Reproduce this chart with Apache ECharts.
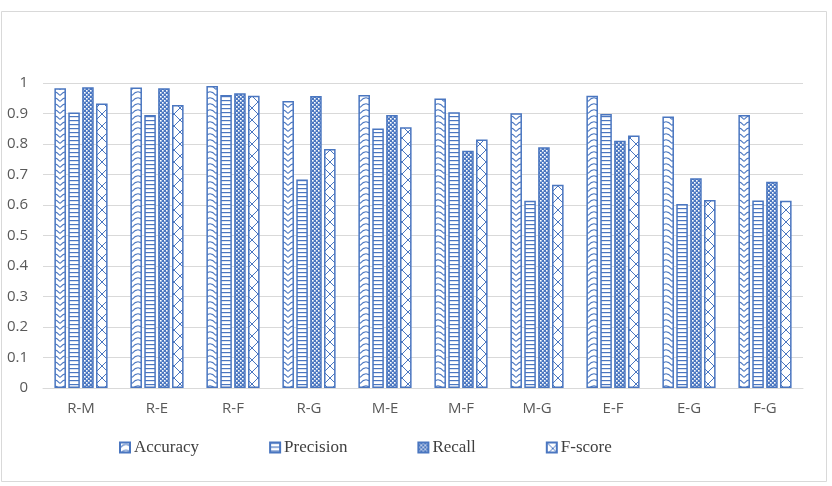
<!DOCTYPE html>
<html>
<head>
<meta charset="utf-8">
<script src="https://cdn.jsdelivr.net/npm/echarts@6/dist/echarts.min.js"></script>
<style>html,body{margin:0;padding:0;background:#fff;}#c{width:832px;height:486px;}</style>
</head>
<body>
<div id="c"></div>
<script>
const categories = ['R-M','R-E','R-F','R-G','M-E','M-F','M-G','E-F','E-G','F-G'];
const seriesNames = ['Accuracy','Precision','Recall','F-score'];
const accuracy  = [0.983,0.985,0.990,0.941,0.961,0.949,0.901,0.958,0.890,0.895];
const precision = [0.903,0.895,0.961,0.684,0.851,0.904,0.614,0.898,0.603,0.615];
const recall    = [0.986,0.983,0.966,0.957,0.895,0.778,0.789,0.811,0.688,0.676];
const fscore    = [0.933,0.928,0.958,0.784,0.855,0.815,0.666,0.828,0.616,0.614];
const yTickLabels = ['0','0.1','0.2','0.3','0.4','0.5','0.6','0.7','0.8','0.9','1'];

const BLUE = '#4a76c0';
function tile(w, h, draw) {
  const c = document.createElement('canvas');
  c.width = w; c.height = h;
  const g = c.getContext('2d');
  g.fillStyle = '#fff'; g.fillRect(0, 0, w, h);
  g.strokeStyle = BLUE; g.fillStyle = BLUE; g.lineWidth = 1;
  draw(g);
  return c;
}
const patAcc = tile(12, 6, g => {
  g.lineWidth = 1.1;
  g.beginPath();
  g.moveTo(0, 5.5); g.quadraticCurveTo(6, -2, 12, 5.5);
  g.stroke();
});
const patPrec = tile(4, 4, g => {
  g.fillRect(0, 0, 4, 1.2);
});
const patRec = tile(4, 4, g => {
  g.fillRect(0, 0, 4, 4);
  g.fillStyle = '#fff';
  g.fillRect(0, 0, 1.6, 1.6);
  g.fillRect(2, 2, 1.6, 1.6);
});
const patF = tile(12, 12, g => {
  g.beginPath();
  g.moveTo(0, 0); g.lineTo(12, 12);
  g.moveTo(12, 0); g.lineTo(0, 12);
  g.stroke();
});
const patterns = [patAcc, patPrec, patRec, patF];
const dataArr = [accuracy, precision, recall, fscore];

const chart = echarts.init(document.getElementById('c'), null, {renderer: 'canvas'});
chart.setOption({
  animation: false,
  backgroundColor: '#fff',
  graphic: [{
    type: 'rect', left: -1, top: 9, silent: true,
    shape: {x: 0, y: 0, width: 825, height: 470},
    style: {fill: 'none', stroke: '#d9d9d9', lineWidth: 1}
  }],
  grid: {left: 43, right: 29, top: 83, bottom: 98, containLabel: false},
  legend: {
    left: 114, top: 434,
    itemWidth: 10, itemHeight: 10, itemGap: 70,
    icon: 'rect',
    textStyle: {fontFamily: 'Liberation Serif', fontSize: 17, color: '#404040', padding: [0, 0, 0, -1]},
    data: seriesNames
  },
  xAxis: {
    type: 'category', data: categories,
    axisTick: {show: false},
    axisLine: {lineStyle: {color: '#d9d9d9', width: 1}},
    axisLabel: {fontFamily: 'Open Sans', fontSize: 15, color: '#595959', margin: 13}
  },
  yAxis: {
    type: 'value', min: 0, max: 1, interval: 0.1,
    axisLine: {show: false}, axisTick: {show: false},
    splitLine: {lineStyle: {color: '#d9d9d9', width: 1}},
    axisLabel: {
      fontFamily: 'Open Sans', fontSize: 15, color: '#595959', margin: 15,
      formatter: v => yTickLabels[Math.round(v * 10)]
    }
  },
  series: seriesNames.map((n, i) => ({
    name: n, type: 'bar', data: dataArr[i],
    barGap: '20%', barCategoryGap: '30%',
    itemStyle: {
      color: {image: patterns[i], repeat: 'repeat'},
      borderColor: BLUE, borderWidth: 1.5
    }
  }))
});
</script>
</body>
</html>
